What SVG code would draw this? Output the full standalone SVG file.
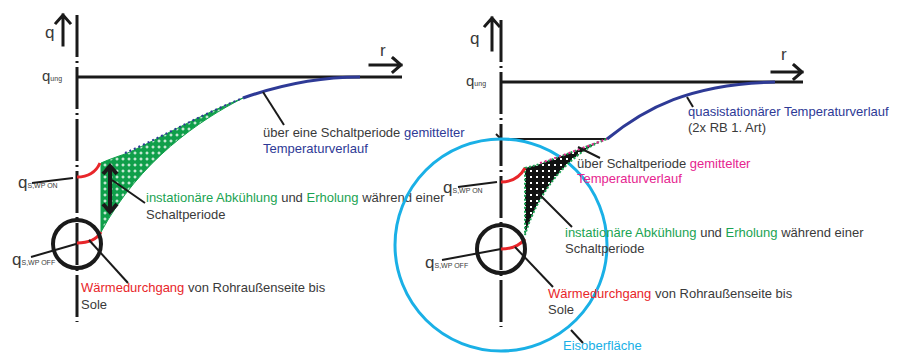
<svg xmlns="http://www.w3.org/2000/svg" width="903" height="353" viewBox="0 0 903 353">
<style>
text{font-family:"Liberation Sans",Arial,sans-serif;fill:#3a3a3a}
.t{font-size:13px}
.q{font-size:17px}
.sub{font-size:7px}
.ax{stroke:#1a1a1a;stroke-width:3;fill:none;stroke-dasharray:42 4 2 4}
.bl{stroke:#1a1a1a;stroke-width:3;fill:none}
.ld{stroke:#1a1a1a;stroke-width:2;fill:none}
.arr{stroke:#1a1a1a;stroke-width:3;fill:none;stroke-linecap:square}
.red{stroke:#e8262a;stroke-width:3;fill:none}
.blue{stroke:#2e3a96;stroke-width:3;fill:none}
.pipe{stroke:#1a1a1a;stroke-width:4;fill:none}
.cb{fill:#2e3a96}.cg{fill:#1aa352}.cr{fill:#e8262a}.cm{fill:#e6258f}.cc{fill:#1ab0e6}
</style>
<defs>
<pattern id="gdots" width="6" height="6" patternUnits="userSpaceOnUse">
<rect width="6" height="6" fill="#0f9f4a"/>
<rect x="2.5" y="1.5" width="1" height="3" fill="#fff"/>
<rect x="1.5" y="2.5" width="3" height="1" fill="#fff"/>
</pattern>
<pattern id="kdots" width="6" height="6" patternUnits="userSpaceOnUse">
<rect width="6" height="6" fill="#111"/>
<rect x="2" y="2" width="2" height="2" fill="#fff"/>
</pattern>
</defs>

<g id="left-axes">
<line class="ax" x1="77" y1="15" x2="77" y2="322"/>
<line class="bl" x1="77" y1="77" x2="402" y2="77"/>
<path class="arr" d="M63 45V15M56 23L63 15L70 23"/>
<path class="arr" d="M370 65H401M393 58L401 65L393 72"/>
<text class="q" x="45" y="38">q</text>
<text x="380" y="56" class="q">r</text>
<text x="42" y="81" class="q" style="font-size:15px">q<tspan class="sub">ung</tspan></text>
</g>

<g id="left-band">
<path d="M101 163C112 158 120 156 130 152C160 138 200 115 243 98C200 120 140 160 101 232Z" fill="url(#gdots)" stroke="#0f9f4a" stroke-width="1"/>
<path d="M125 153C160 138 200 115 243 98" fill="none" stroke="#2e3a96" stroke-width="2" stroke-dasharray="2 3"/>
<path class="blue" d="M243 98C280 85 320 77 360 77"/>
</g>

<g id="left-red">
<path class="red" d="M77 177C88 177 96 172 100 163"/>
<path class="red" d="M77 243C88 243 97 239 101 232"/>
</g>

<g id="left-pipe">
<circle class="pipe" cx="77" cy="244" r="24"/>
</g>

<g id="left-dblarrow">
<path class="pipe" d="M110 167V211M103 174L110 166L117 174M103 204L110 212L117 204"/>
</g>

<g id="left-labels">
<text x="18" y="188" class="q">q<tspan class="sub">S,WP ON</tspan></text>
<text x="12" y="265" class="q">q<tspan class="sub">S,WP OFF</tspan></text>
<text class="t" x="263" y="137">über eine Schaltperiode <tspan class="cb">gemittelter</tspan></text>
<text class="t cb" x="263" y="153">Temperaturverlauf</text>
<text class="t" x="146" y="202"><tspan class="cg">instationäre Abkühlung</tspan> und <tspan class="cg">Erholung</tspan> während einer</text>
<text class="t" x="146" y="219">Schaltperiode</text>
<text class="t" x="81" y="292"><tspan class="cr">Wärmedurchgang</tspan> von Rohraußenseite bis</text>
<text class="t" x="81" y="309">Sole</text>
</g>

<g id="right-axes">
<line class="ax" x1="501" y1="20" x2="501" y2="327"/>
<line class="bl" x1="501" y1="82" x2="803" y2="82"/>
<path class="arr" d="M492 50V18M485 26L492 18L499 26"/>
<path class="arr" d="M772 72H802M794 65L802 72L794 79"/>
<text class="q" x="470" y="44">q</text>
<text class="q" x="781" y="60">r</text>
<text class="q" x="466" y="86" style="font-size:15px">q<tspan class="sub">ung</tspan></text>
<line class="ld" x1="501" y1="139" x2="607" y2="139"/>
<line class="ld" x1="496" y1="134" x2="500" y2="138"/>
</g>

<g id="right-ice">
<circle cx="501" cy="245" r="106" fill="none" stroke="#1ab0e6" stroke-width="3"/>
</g>

<g id="right-band">
<path d="M525 168C532 166 538 165 545 162C565 155 590 145 607 139C575 150 540 185 525 235Z" fill="url(#kdots)" stroke="#1aa352" stroke-width="2" stroke-dasharray="2 2"/>
<path d="M540 163C565 155 590 145 607 139" fill="none" stroke="#e6258f" stroke-width="2" stroke-dasharray="2 3"/>
<path class="blue" d="M607 139C645 108 690 84 775 82"/>
</g>

<g id="right-red">
<path class="red" d="M501 182C512 182 520 177 525 168"/>
<path class="red" d="M501 249C512 249 520 245 525 239"/>
</g>

<g id="right-pipe">
<circle class="pipe" cx="501" cy="249" r="24"/>
</g>

<g id="right-labels">
<text x="443" y="193" class="q">q<tspan class="sub">S,WP ON</tspan></text>
<text x="425" y="268" class="q">q<tspan class="sub">S,WP OFF</tspan></text>
<text class="t cb" x="688" y="116">quasistationärer Temperaturverlauf</text>
<text class="t" x="688" y="132">(2x RB 1. Art)</text>
<text class="t" x="577" y="168">über Schaltperiode <tspan class="cm">gemittelter</tspan></text>
<text class="t cm" x="577" y="183">Temperaturverlauf</text>
<text class="t" x="565" y="237"><tspan class="cg">instationäre Abkühlung</tspan> und <tspan class="cg">Erholung</tspan> während einer</text>
<text class="t" x="565" y="253">Schaltperiode</text>
<text class="t" x="548" y="298"><tspan class="cr">Wärmedurchgang</tspan> von Rohraußenseite bis</text>
<text class="t" x="548" y="314">Sole</text>
<text class="t cc" x="563" y="350">Eisoberfläche</text>
</g>

<g id="connectors">
<line class="ld" x1="32" y1="183" x2="73" y2="178"/>
<line class="ld" x1="31" y1="257" x2="76" y2="244"/>
<line class="ld" x1="89" y1="240" x2="128" y2="283"/>
<line class="ld" x1="112" y1="180" x2="145" y2="203"/>
<line class="ld" x1="263" y1="92" x2="284" y2="125"/>
<line class="ld" x1="458" y1="187" x2="497" y2="182"/>
<line class="ld" x1="442" y1="260" x2="501" y2="249"/>
<line class="ld" x1="515" y1="247" x2="553" y2="287"/>
<line class="ld" x1="537" y1="192" x2="572" y2="227"/>
<line class="ld" x1="578" y1="147" x2="600" y2="158"/>
<line class="ld" x1="687" y1="97" x2="693" y2="107"/>
<line class="ld" x1="571" y1="330" x2="583" y2="343"/>
</g>
</svg>
